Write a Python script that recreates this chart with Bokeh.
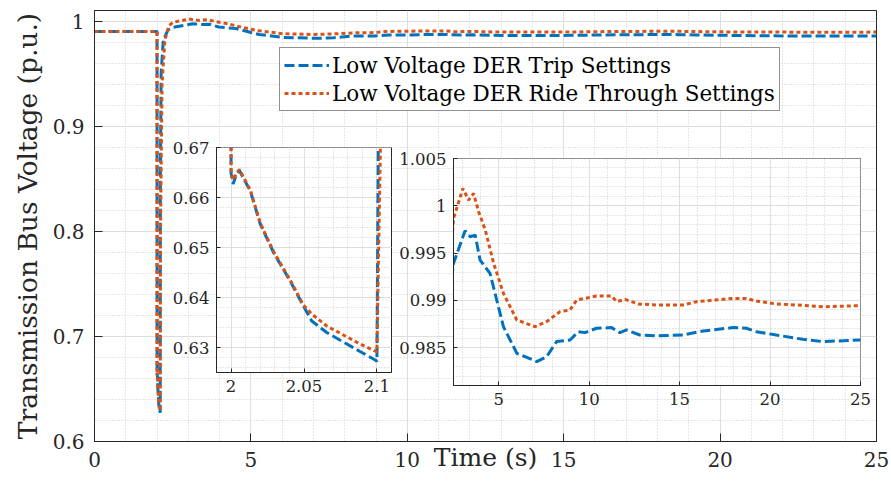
from bokeh.plotting import figure
from bokeh.models import (Range1d, SingleIntervalTicker, CustomJSTickFormatter,
                          Legend, LegendItem)
from bokeh.layouts import column
from bokeh.embed import file_html
from bokeh.resources import INLINE

# ---------------- data ----------------
t_trip = [0.0, 1.999, 2.0, 2.0014, 2.0035, 2.0057, 2.0132, 2.020, 2.0291, 2.0405,
          2.0496, 2.0553, 2.0656, 2.077, 2.0884, 2.0994, 2.1, 2.105, 2.13, 2.2,
          2.35, 2.5, 3.14, 3.42, 3.70, 3.97, 4.52, 5.26, 6.0, 7.1, 7.65, 8.2,
          8.94, 9.4, 9.77, 10.41, 11.24, 11.7, 12.07, 12.8, 13.72, 15.19, 16.3,
          17.95, 18.69, 19.24, 20.34, 21.82, 22.92, 25.0]
v_trip = [0.990, 0.990, 0.6648, 0.6627, 0.6645, 0.6654, 0.6613, 0.6547, 0.6490, 0.6433,
          0.6383, 0.6353, 0.6330, 0.6311, 0.6292, 0.6274, 0.6272, 0.850, 0.950, 0.982,
          0.9915, 0.99391, 0.99736, 0.99673, 0.99690, 0.99426, 0.99285, 0.98722, 0.98441,
          0.98353, 0.98405, 0.98564, 0.98581, 0.98669, 0.98659, 0.98705, 0.98712, 0.98659,
          0.98687, 0.98634, 0.98624, 0.98634, 0.98676, 0.98712, 0.98705, 0.98669, 0.98634,
          0.98588, 0.98564, 0.98581]

t_rt = [0.0, 1.999, 2.0, 2.0014, 2.0035, 2.0057, 2.0132, 2.020, 2.0291, 2.0405,
        2.0496, 2.0553, 2.0656, 2.077, 2.0884, 2.0994, 2.1, 2.11, 2.16, 2.25,
        2.38, 2.5, 3.02, 3.33, 3.61, 3.89, 4.26, 4.72, 5.26, 6.0, 7.0, 7.65,
        8.39, 8.94, 9.31, 10.41, 11.24, 11.52, 11.98, 12.72, 13.72, 15.19, 15.93,
        17.95, 18.69, 19.24, 20.34, 21.82, 22.92, 25.0]
v_rt = [0.990, 0.990, 0.6650, 0.6635, 0.6648, 0.6656, 0.6615, 0.6549, 0.6492, 0.6435,
        0.6385, 0.6367, 0.6343, 0.6325, 0.6307, 0.6292, 0.6291, 0.800, 0.940, 0.982,
        0.9955, 0.99866, 1.00183, 1.00060, 1.00130, 0.99937, 0.99743, 0.99391, 0.99074,
        0.98793, 0.98722, 0.98775, 0.98881, 0.98898, 0.99004, 0.99046, 0.99046, 0.98986,
        0.99011, 0.98962, 0.98951, 0.98951, 0.98986, 0.99021, 0.99021, 0.98993, 0.98962,
        0.98947, 0.98933, 0.98944]

label_trip = "Low Voltage DER Trip Settings"
label_rt = "Low Voltage DER Ride Through Settings"
x_label = "Time (s)"
y_label = "Transmission Bus Voltage (p.u.)"

# ---------------- styles ----------------
FONT = "DejaVu Serif"
AX = "#262626"
BLUE = "#0072BD"
ORANGE = "#D95319"
FMT = "return String(Number(tick.toFixed(6)));"
BL, BR = 94, 15   # left/right borders (column aligns these across plots)
EPS = 1e-9


def style(p, xint, yint, tick_font, tick_in, standoff):
    xt = SingleIntervalTicker(interval=xint, num_minor_ticks=5)
    yt = SingleIntervalTicker(interval=yint, num_minor_ticks=5)
    p.xaxis.ticker = xt
    p.yaxis.ticker = yt
    p.xgrid.ticker = xt
    p.ygrid.ticker = yt
    for ax in (p.xaxis, p.yaxis):
        ax.formatter = CustomJSTickFormatter(code=FMT)
        ax.major_label_text_font = FONT
        ax.major_label_text_font_size = tick_font
        ax.major_label_text_color = AX
        ax.axis_line_color = AX
        ax.major_tick_line_color = AX
        ax.major_tick_in = tick_in
        ax.major_tick_out = 0
        ax.minor_tick_in = 0
        ax.minor_tick_out = 0
        ax.major_label_standoff = standoff
    for g in (p.xgrid, p.ygrid):
        g.grid_line_color = "#dedede"
        g.grid_line_width = 1
        g.minor_grid_line_color = "#cfcfcf"
        g.minor_grid_line_dash = "1 2"
        g.minor_grid_line_width = 1
    p.outline_line_color = AX
    p.outline_line_width = 1


def add_lines(p):
    r1 = p.line(t_trip, v_trip, line_color=BLUE, line_width=3, line_dash="10 4")
    r2 = p.line(t_rt, v_rt, line_color=ORANGE, line_width=3, line_dash="4 3")
    return r1, r2


# ---------------- main ----------------
p = figure(width=891, height=484, x_range=Range1d(0, 25),
           y_range=Range1d(0.6, 1.01), output_backend="svg", toolbar_location=None,
           min_border_left=BL, min_border_right=BR, min_border_top=10,
           min_border_bottom=43, background_fill_color="white",
           border_fill_color="white")
style(p, 5, 0.1, "20px", 8, 10)
r1, r2 = add_lines(p)
xa = p.below[0]
ya = p.left[0]
xa.axis_label = x_label
ya.axis_label = y_label
for ax, so, fs in ((xa, -27, "25px"), (ya, 7, "26.5px")):
    ax.axis_label_text_font = FONT
    ax.axis_label_text_font_size = fs
    ax.axis_label_text_font_style = "normal"
    ax.axis_label_text_color = AX
    ax.axis_label_standoff = so

legend = Legend(items=[LegendItem(label=label_trip, renderers=[r1]),
                       LegendItem(label=label_rt, renderers=[r2])],
                location=(185, 330))
legend.label_text_font = FONT
legend.label_text_font_size = "21.5px"
legend.label_text_color = "black"
legend.border_line_color = AX
legend.border_line_width = 1
legend.background_fill_color = "white"
legend.background_fill_alpha = 1
legend.padding = 4
legend.spacing = 2
legend.margin = 0
legend.glyph_width = 45
legend.glyph_height = 20
legend.label_height = 26
legend.label_standoff = 3
p.add_layout(legend)

# ---------------- inset 1 ----------------
i1 = figure(width=BL + 175 + BR, height=272, x_range=Range1d(1.99, 2.11),
            y_range=Range1d(0.625, 0.67 + EPS), output_backend="svg",
            toolbar_location=None,
            min_border_left=BL, min_border_right=BR, min_border_top=12,
            min_border_bottom=35, background_fill_color="white",
            border_fill_color=None)
style(i1, 0.05, 0.01, "16.5px", 4, 7)
add_lines(i1)
i1.styles = {"position": "absolute", "left": f"{216 - BL}px", "top": "135px"}

# ---------------- inset 2 ----------------
i2 = figure(width=BL + 407 + BR, height=274, x_range=Range1d(2.5, 25 + EPS),
            y_range=Range1d(0.981, 1.005 + EPS), output_backend="svg",
            toolbar_location=None,
            min_border_left=BL, min_border_right=BR, min_border_top=12,
            min_border_bottom=35, background_fill_color="white",
            border_fill_color=None)
style(i2, 5, 0.005, "16.5px", 4, 7)
add_lines(i2)
i2.styles = {"position": "absolute", "left": f"{453 - BL}px", "top": "146px"}

layout = column(p, i1, i2)
open("out.html", "w").write(file_html(layout, INLINE))
